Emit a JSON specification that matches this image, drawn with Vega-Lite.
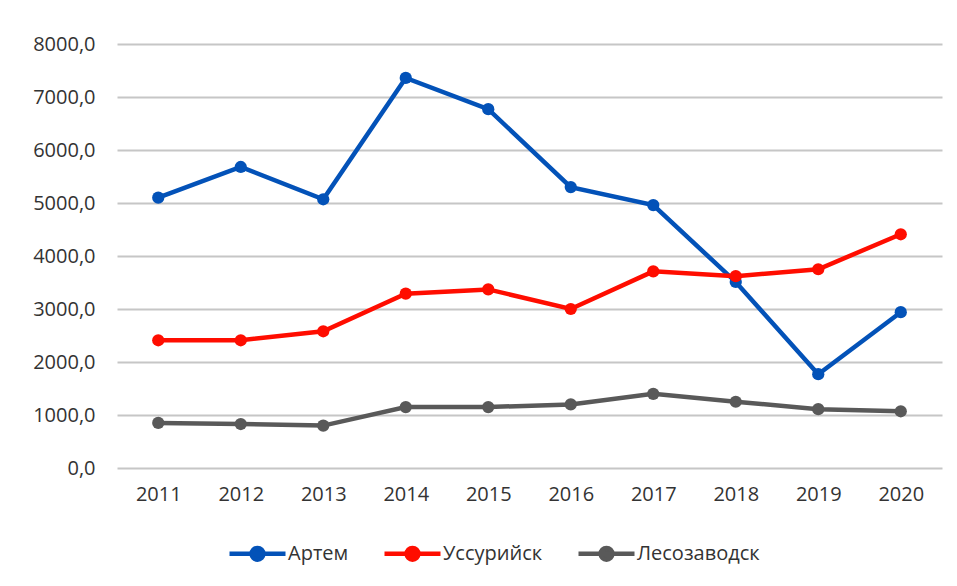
{
  "$schema": "https://vega.github.io/schema/vega-lite/v6.json",
  "width": 825,
  "height": 424,
  "autosize": {"type": "none"},
  "padding": {"left": 117, "top": 44, "right": 15, "bottom": 118},
  "background": "white",
  "config": {
    "view": {"stroke": null},
    "locale": {"number": {"decimal": ",", "thousands": " ", "grouping": [3], "currency": ["", ""]}},
    "font": "Open Sans",
    "axis": {"labelFont": "Open Sans", "labelColor": "#333333", "labelFontSize": 20, "ticks": false, "domain": false, "title": null}
  },
  "data": {
    "values": [
      {"year": "2011", "city": "Артем", "value": 5100},
      {"year": "2012", "city": "Артем", "value": 5680},
      {"year": "2013", "city": "Артем", "value": 5070},
      {"year": "2014", "city": "Артем", "value": 7360},
      {"year": "2015", "city": "Артем", "value": 6770},
      {"year": "2016", "city": "Артем", "value": 5300},
      {"year": "2017", "city": "Артем", "value": 4960},
      {"year": "2018", "city": "Артем", "value": 3510},
      {"year": "2019", "city": "Артем", "value": 1770},
      {"year": "2020", "city": "Артем", "value": 2940},
      {"year": "2011", "city": "Уссурийск", "value": 2410},
      {"year": "2012", "city": "Уссурийск", "value": 2410},
      {"year": "2013", "city": "Уссурийск", "value": 2580},
      {"year": "2014", "city": "Уссурийск", "value": 3290},
      {"year": "2015", "city": "Уссурийск", "value": 3370},
      {"year": "2016", "city": "Уссурийск", "value": 3000},
      {"year": "2017", "city": "Уссурийск", "value": 3710},
      {"year": "2018", "city": "Уссурийск", "value": 3620},
      {"year": "2019", "city": "Уссурийск", "value": 3750},
      {"year": "2020", "city": "Уссурийск", "value": 4410},
      {"year": "2011", "city": "Лесозаводск", "value": 850},
      {"year": "2012", "city": "Лесозаводск", "value": 830},
      {"year": "2013", "city": "Лесозаводск", "value": 800},
      {"year": "2014", "city": "Лесозаводск", "value": 1150},
      {"year": "2015", "city": "Лесозаводск", "value": 1150},
      {"year": "2016", "city": "Лесозаводск", "value": 1200},
      {"year": "2017", "city": "Лесозаводск", "value": 1400},
      {"year": "2018", "city": "Лесозаводск", "value": 1250},
      {"year": "2019", "city": "Лесозаводск", "value": 1110},
      {"year": "2020", "city": "Лесозаводск", "value": 1070}
    ]
  },
  "mark": {"type": "line", "strokeWidth": 4.5, "point": {"filled": true, "size": 150, "opacity": 1}},
  "encoding": {
    "x": {
      "field": "year", "type": "ordinal",
      "scale": {"type": "point", "padding": 0.5},
      "axis": {"labelAngle": 0, "labelPadding": 16, "grid": false}
    },
    "y": {
      "field": "value", "type": "quantitative",
      "scale": {"domain": [0, 8000], "nice": false},
      "axis": {"values": [0, 1000, 2000, 3000, 4000, 5000, 6000, 7000, 8000], "format": ".1f", "labelPadding": 22, "grid": true, "gridColor": "#c6c6c6", "gridWidth": 2}
    },
    "color": {
      "field": "city", "type": "nominal",
      "scale": {"domain": ["Артем", "Уссурийск", "Лесозаводск"], "range": ["#0352b8", "#ff0d00", "#595959"]},
      "legend": {
        "title": null,
        "orient": "none",
        "direction": "horizontal",
        "legendX": 110,
        "legendY": 479,
        "symbolType": "M-1,0H1M-0.21,0A0.21,0.21 0 1,1 0.21,0A0.21,0.21 0 1,1 -0.21,0",
        "symbolSize": 3136,
        "symbolStrokeWidth": 4.5,
        "labelFontSize": 20,
        "labelFont": "Open Sans",
        "labelColor": "#333333",
        "labelOffset": 0,
        "columnPadding": 26
      }
    }
  }
}
